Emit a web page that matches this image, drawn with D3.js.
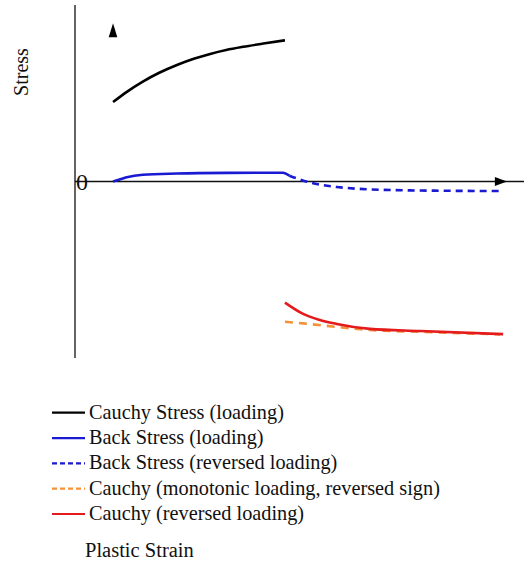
<!DOCTYPE html>
<html>
<head>
<meta charset="utf-8">
<script src="https://cdn.jsdelivr.net/npm/d3@7"></script>
<style>
  html, body { margin: 0; padding: 0; background: #fff; }
  svg { display: block; }
  text { font-family: "Liberation Serif", "Times New Roman", serif; fill: #111; }
</style>
</head>
<body>
<svg id="chart" width="524" height="567"></svg>
<script>
// Plastic strain (arbitrary units) vs stress (arbitrary units)
const cauchyLoadingStrain = [0.88, 1.20, 1.57, 1.95, 2.36, 2.75, 3.13, 3.50, 3.89, 4.40, 4.86];
const cauchyLoadingStress = [4.50, 5.08, 5.66, 6.16, 6.60, 6.95, 7.23, 7.45, 7.63, 7.83, 8.00];

const backLoadingStrain = [0.88, 1.05, 1.20, 1.57, 2.36, 3.52, 4.81, 4.96];
const backLoadingStress = [0.00, 0.13, 0.24, 0.38, 0.45, 0.49, 0.50, 0.33];

const backReversedStrain = [4.96, 5.14, 5.44, 5.72, 6.06, 6.83, 7.99, 9.81];
const backReversedStress = [0.33, 0.17, -0.06, -0.20, -0.31, -0.45, -0.51, -0.54];

const cauchyMonotonicStrain = [4.86, 5.28, 6.06, 6.83, 7.99, 9.84];
const cauchyMonotonicStress = [-7.95, -8.04, -8.24, -8.41, -8.52, -8.66];

const cauchyReversedStrain = [4.86, 5.28, 5.65, 6.06, 6.83, 7.99, 9.91];
const cauchyReversedStress = [-6.86, -7.50, -7.83, -8.07, -8.35, -8.47, -8.65];

const legendLabels = [
  "Cauchy Stress (loading)",
  "Back Stress (loading)",
  "Back Stress (reversed loading)",
  "Cauchy (monotonic loading, reversed sign)",
  "Cauchy (reversed loading)"
];
const xAxisTitle = "Plastic Strain";
const yAxisTitle = "Stress";
const originLabel = "0";

const svg = d3.select("#chart");

const x = d3.scaleLinear().domain([0, 10]).range([75, 507]);
const y = d3.scaleLinear().domain([-10, 10]).range([358, 5]);

const series = [
  { xs: cauchyLoadingStrain, ys: cauchyLoadingStress, color: "#000000", dash: null, legendDash: null },
  { xs: backLoadingStrain, ys: backLoadingStress, color: "#1a1ad2", dash: null, legendDash: null },
  { xs: backReversedStrain, ys: backReversedStress, color: "#1a1ad2", dash: "7,5", legendDash: "5,3" },
  { xs: cauchyMonotonicStrain, ys: cauchyMonotonicStress, color: "#f39238", dash: "8,6", legendDash: "5,3" },
  { xs: cauchyReversedStrain, ys: cauchyReversedStress, color: "#e41a1c", dash: null, legendDash: null }
];

// axes
svg.append("line")
  .attr("x1", x(0)).attr("x2", x(0))
  .attr("y1", y(10)).attr("y2", y(-10))
  .attr("stroke", "#222").attr("stroke-width", 1.4);

svg.append("line")
  .attr("x1", x(0)).attr("x2", 524)
  .attr("y1", y(0)).attr("y2", y(0))
  .attr("stroke", "#111").attr("stroke-width", 1.4);

// arrowhead on strain axis
svg.append("path")
  .attr("d", `M${x(9.72)},${y(0) - 4.5} L${x(10)},${y(0)} L${x(9.72)},${y(0) + 4.5} Z`)
  .attr("fill", "#000");

// arrowhead marker for stress axis
svg.append("path")
  .attr("d", `M${x(0.88)},${y(8.97)} L${x(0.98)},${y(8.17)} L${x(0.78)},${y(8.17)} Z`)
  .attr("fill", "#000");

svg.append("text")
  .attr("x", x(0) + 7).attr("y", y(0) + 8.5)
  .attr("text-anchor", "middle")
  .style("font-size", "24px")
  .text(originLabel);

svg.append("text")
  .attr("transform", `translate(28,${y(6.2)}) rotate(-90)`)
  .attr("text-anchor", "middle")
  .style("font-size", "20px")
  .text(yAxisTitle);

const line = d3.line()
  .x(d => x(d[0]))
  .y(d => y(d[1]))
  .curve(d3.curveMonotoneX);

series.forEach(s => {
  const pts = s.xs.map((v, k) => [v, s.ys[k]]);
  svg.append("path")
    .attr("d", line(pts))
    .attr("fill", "none")
    .attr("stroke", s.color)
    .attr("stroke-width", 2.6)
    .attr("stroke-dasharray", s.dash)
    .attr("stroke-linecap", "butt");
});

// legend (right edge of the box trims the longest label)
svg.append("clipPath").attr("id", "legendClip")
  .append("rect").attr("x", 0).attr("y", 390).attr("width", 440).attr("height", 140);

const legend = svg.append("g").attr("clip-path", "url(#legendClip)");
const rowY = d3.scaleLinear().domain([0, 4]).range([412.7, 514]);

legendLabels.forEach((label, i) => {
  const s = series[i];
  legend.append("line")
    .attr("x1", 52).attr("x2", 85)
    .attr("y1", rowY(i)).attr("y2", rowY(i))
    .attr("stroke", s.color)
    .attr("stroke-width", 2.2)
    .attr("stroke-dasharray", s.legendDash);
  legend.append("text")
    .attr("x", 89).attr("y", rowY(i) + 6)
    .style("font-size", "20.3px")
    .text(label);
});

svg.append("text")
  .attr("x", 85).attr("y", 556.5)
  .style("font-size", "20.5px")
  .text(xAxisTitle);
</script>
</body>
</html>
